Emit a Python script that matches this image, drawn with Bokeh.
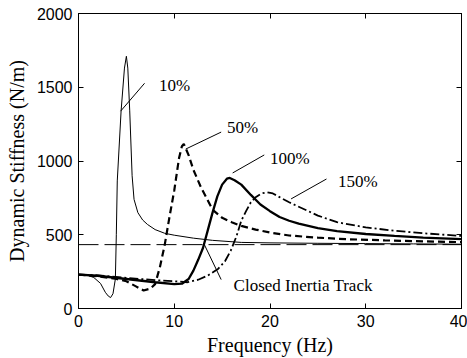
from bokeh.plotting import figure
from bokeh.models import Range1d, FixedTicker, LinearAxis
from bokeh.core.properties import value
from bokeh.embed import file_html
from bokeh.resources import INLINE

# ---- data ----
x10 = [0, 1, 1.6, 2.3, 2.8, 3.1, 3.35, 3.6, 3.85, 3.95, 4.05, 4.45, 4.8, 5.0, 5.15, 5.35, 5.6, 5.8, 6.2, 6.7, 7.2, 8, 9, 10, 12, 14, 17, 20, 25, 30, 35, 40]
y10 = [230, 224, 210, 170, 110, 85, 74, 100, 200, 500, 865, 1340, 1630, 1710, 1630, 1340, 900, 740, 650, 600, 570, 535, 510, 497, 477, 462, 448, 445, 442, 440, 438, 436]

x50 = [0, 2, 4, 5, 6, 6.8, 7.5, 8.0, 8.5, 9.0, 9.5, 10.0, 10.5, 10.8, 11.0, 11.5, 12, 12.8, 14, 15, 16, 17, 18.5, 20, 22, 25, 28, 32, 36, 40]
y50 = [230, 218, 200, 185, 150, 122, 135, 165, 280, 430, 620, 800, 1020, 1100, 1115, 1040, 940, 820, 670, 615, 585, 560, 535, 515, 495, 480, 470, 462, 455, 450]

x100 = [0, 2, 5, 8, 10, 10.8, 11.5, 12, 12.5, 13, 13.5, 14, 14.5, 15, 15.5, 15.8, 16.3, 17, 18, 19, 20, 21, 22, 23, 25, 27, 30, 33, 36, 40]
y100 = [230, 222, 200, 178, 165, 168, 200, 257, 330, 410, 530, 650, 760, 840, 880, 885, 870, 840, 770, 705, 660, 620, 595, 575, 545, 525, 505, 492, 480, 470]

x150 = [0, 2, 5, 8, 10, 11.4, 12.5, 13.5, 14.6, 15.3, 15.9, 16.5, 17, 17.5, 18, 18.5, 19.1, 19.7, 20.3, 21, 22, 23, 25, 27, 30, 33, 36, 40]
y150 = [230, 225, 208, 192, 185, 178, 195, 223, 270, 320, 392, 490, 595, 660, 720, 755, 780, 788, 780, 755, 720, 690, 630, 585, 550, 527, 510, 492]

x_closed = [0, 40]
y_closed = [433, 433]

x_ticks = [0, 10, 20, 30, 40]
y_ticks = [0, 500, 1000, 1500, 2000]

labels = ["10%", "50%", "100%", "150%", "Closed Inertia Track"]
label_x = [8.4, 15.5, 20.0, 27.1, 16.2]
label_y = [1514, 1230, 1014, 858, 155]
leader_x0 = [4.4, 11.2, 16.1, 22.2, 13.1]
leader_y0 = [1338, 1081, 919, 743, 439]
leader_x1 = [6.9, 14.9, 19.4, 25.9, 14.9]
leader_y1 = [1527, 1196, 1041, 878, 196]

p = figure(frame_width=383, frame_height=295, output_backend="svg", toolbar_location=None,
           x_range=Range1d(0, 40), y_range=Range1d(0, 2000),
           min_border_left=78, min_border_top=13, min_border_right=6, min_border_bottom=50,
           background_fill_color="white", border_fill_color="white")
p.grid.visible = False
p.outline_line_color = "black"
p.outline_line_width = 1

tick_font = "Liberation Sans"
lab_font = "Liberation Serif"
for ax in (p.xaxis[0], p.yaxis[0]):
    ax.major_tick_in = 5
    ax.major_tick_out = 0
    ax.minor_tick_line_color = None
    ax.axis_line_color = "black"
    ax.major_tick_line_color = "black"
    ax.major_label_text_font = tick_font
    ax.major_label_text_font_size = "16px"
    ax.major_label_text_color = "black"
    ax.axis_label_text_font = lab_font
    ax.axis_label_text_font_size = "20px"
    ax.axis_label_text_font_style = "normal"
    ax.axis_label_text_color = "black"
p.xaxis[0].ticker = FixedTicker(ticks=x_ticks)
p.yaxis[0].ticker = FixedTicker(ticks=y_ticks)
p.xaxis[0].axis_label = "Frequency (Hz)"
p.yaxis[0].axis_label = "Dynamic Stiffness (N/m)"
p.xaxis[0].major_label_standoff = 6
p.yaxis[0].major_label_standoff = 6
p.xaxis[0].axis_label_standoff = 4
p.yaxis[0].axis_label_standoff = 6

top = LinearAxis(ticker=FixedTicker(ticks=x_ticks))
right = LinearAxis(ticker=FixedTicker(ticks=y_ticks))
for ax in (top, right):
    ax.major_tick_in = 5
    ax.major_tick_out = 0
    ax.minor_tick_line_color = None
    ax.major_label_text_font_size = "1px"
    ax.major_label_text_color = None
    ax.major_label_standoff = 0
    ax.axis_line_color = "black"
p.add_layout(top, "above")
p.add_layout(right, "right")

p.line(x_closed, y_closed, line_color="black", line_width=1, line_dash="20 6")
p.line(x10, y10, line_color="black", line_width=1)
p.line(x50, y50, line_color="black", line_width=2.2, line_dash="7 4")
p.line(x100, y100, line_color="black", line_width=2.3)
p.line(x150, y150, line_color="black", line_width=1.8, line_dash="9 3 2 3")

p.segment(x0=leader_x0, y0=leader_y0, x1=leader_x1, y1=leader_y1, line_color="black", line_width=1)
p.text(x=label_x, y=label_y, text=labels, text_font=value(lab_font), text_font_size="17px",
       text_baseline="middle", text_align="left", text_color="black")

open("out.html", "w").write(file_html(p, INLINE))
